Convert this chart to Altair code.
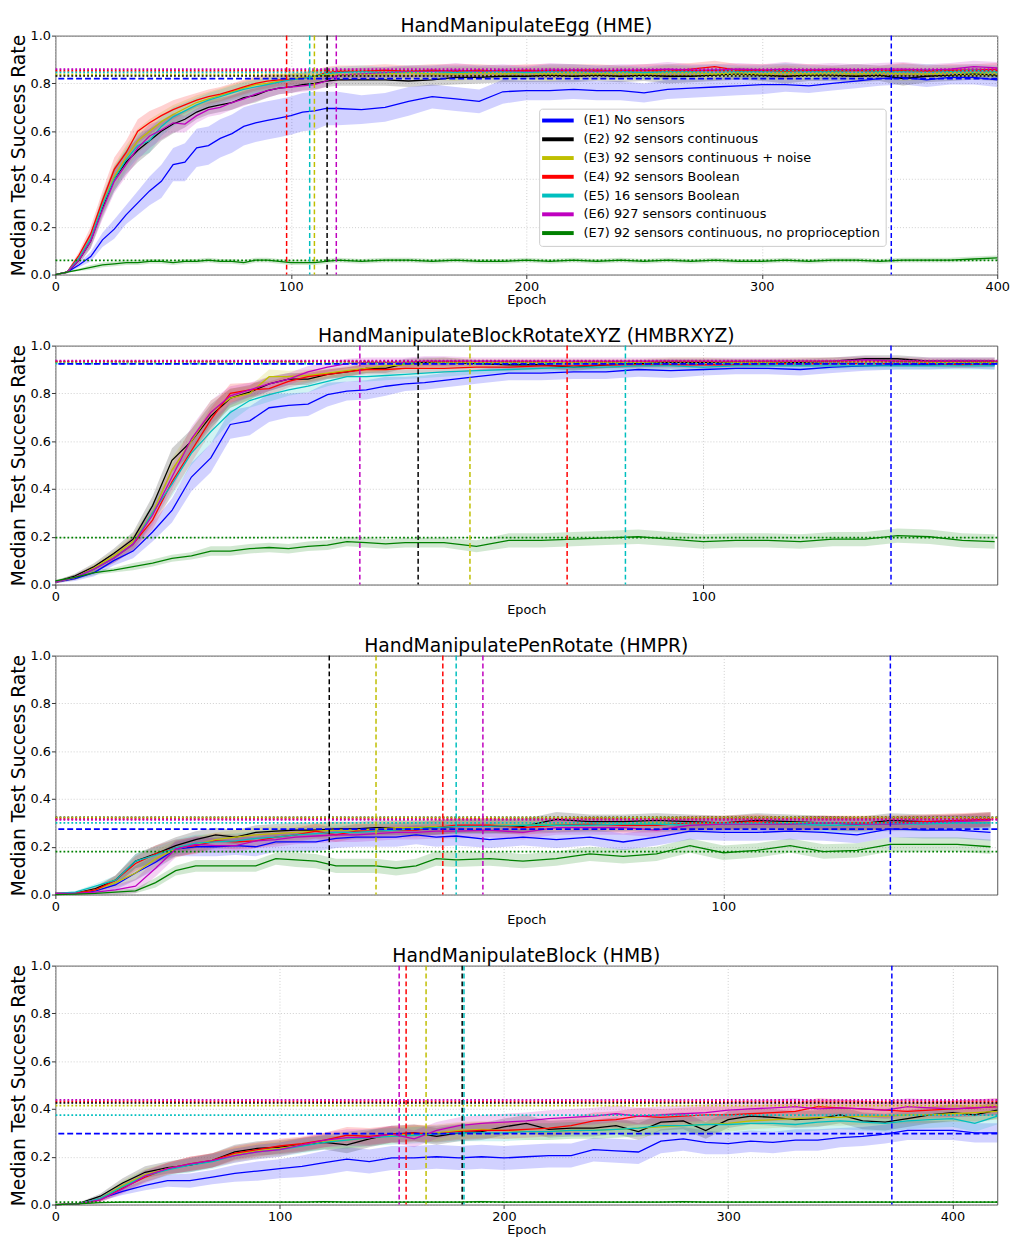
import altair as alt
import pandas as pd

KEYS = ["E1", "E2", "E3", "E4", "E5", "E6", "E7"]
LABELS = [
    "(E1) No sensors",
    "(E2) 92 sensors continuous",
    "(E3) 92 sensors continuous + noise",
    "(E4) 92 sensors Boolean",
    "(E5) 16 sensors Boolean",
    "(E6) 927 sensors continuous",
    "(E7) 92 sensors continuous, no proprioception",
]
COLORS = ["#0000ff", "#000000", "#bfbf00", "#ff0000", "#00bfbf", "#bf00bf", "#008000"]
Y_TICKS = [0.0, 0.2, 0.4, 0.6, 0.8, 1.0]

# ---------------- Panel 1: HandManipulateEgg (values in percent) ----------------
P1_TITLE = "HandManipulateEgg (HME)"
P1_XMAX = 400
P1_XTICKS = [0, 100, 200, 300, 400]
P1_EPOCH = [0, 5, 10, 15, 20, 25, 30, 35, 40, 45, 50, 55, 60, 65, 70, 75, 80, 85, 90, 95, 100, 105, 110, 115, 120,
            130, 140, 150, 160, 170, 180, 190, 200, 210, 220, 230, 240, 250, 260, 270, 280, 290, 300, 310, 320,
            330, 340, 350, 360, 370, 380, 390, 400]
P1_E1 = [0, 1, 4, 7.5, 14.5, 19, 25, 30, 35, 39, 46, 47, 53, 54, 57, 59, 62, 63.5, 64.5, 65.5, 66.5, 68, 68.5, 69.5, 69.5,
         69, 70, 72.5, 74.5, 73.5, 72.5, 76.5, 77, 77, 77.5, 77, 77, 76, 77.5, 78, 78.5, 79, 79.5, 79.5, 79,
         80, 81, 82, 82.5, 81.5, 82.5, 82.5, 81.5]
P1_E2 = [0, 1, 6, 14, 28, 40, 47, 52, 56, 60, 63, 65, 68, 70, 71, 72, 74, 75, 77, 78, 78.5, 79.5, 80, 81, 81.5,
         81.5, 81.5, 81, 81.5, 82.5, 82.5, 83, 83, 83.5, 83, 83.5, 83, 83.5, 83, 83, 83.5, 84, 83.5, 83, 83.5,
         83.5, 83, 83.5, 82, 83, 83.5, 84, 83.5]
P1_E3 = [0, 1, 7, 15, 29, 41, 49, 56, 60, 64, 67, 69.5, 72, 73.5, 75, 76.5, 78, 79.5, 80, 81, 82, 82.5, 83, 83.5, 83.5,
         84, 84, 84.5, 84, 84, 84.5, 84, 84.5, 84, 84.5, 84, 84.5, 84, 84.5, 84.5, 84, 84.5, 84, 84.5, 84,
         84.5, 84, 84.5, 84, 84, 84.5, 84.5, 84.5]
P1_E4 = [0, 1, 8, 17, 31, 44, 51, 60, 63.5, 66.5, 69, 71, 73, 74.5, 75.5, 77, 78.5, 80, 81, 81.5, 81.5, 82, 83, 84.5, 85,
         85, 85.5, 85, 85.5, 85, 85.5, 85, 85.5, 85, 85.5, 85.5, 85, 85.5, 85, 86, 87, 85.5, 85.5, 85, 85.5,
         85, 85.5, 85, 85.5, 85, 85.5, 85.5, 86]
P1_E5 = [0, 1, 7, 15, 29, 40, 48, 54, 56, 62, 66, 68.5, 71, 73, 74.5, 76, 77.5, 78.5, 79.5, 80.5, 81.5, 82, 83, 84, 84.5,
         85, 84.5, 85, 85, 84.5, 85, 85, 84.5, 85, 85.5, 85, 85, 84.5, 85, 85, 85.5, 85, 85, 85.5, 85,
         85, 85.5, 85, 85, 85.5, 85, 85.5, 85]
P1_E6 = [0, 1, 6, 14, 27, 39, 46, 53, 58, 60.5, 63.5, 63, 66.5, 69, 70, 72, 73.5, 75.5, 77, 78, 78.5, 79, 79.5, 81, 83.5,
         84, 84.5, 85, 85, 85.5, 85, 85.5, 85, 85.5, 85.5, 85, 85.5, 85.5, 86, 85.5, 85.5, 86, 85.5, 86, 85.5,
         86, 85.5, 86, 86, 85.5, 86, 87, 86.5]
P1_E7 = [0, 1, 2, 3, 4, 4.5, 5, 5, 5.5, 5.5, 5, 5.5, 5.5, 6, 5.5, 5.5, 5, 6, 6, 5.5, 5, 5, 5, 5.5, 6,
         5.5, 6, 6, 5.5, 6, 5.5, 5.5, 6, 5.5, 6, 5.5, 6, 5.5, 6, 5.5, 6, 5.5, 5.5, 6, 5.5,
         6, 6, 5.5, 6, 6, 6, 6.5, 7]
P1_SPREAD_E1 = [0, 0.5, 1, 2, 3, 4, 4, 5, 6, 7, 7, 8, 8, 8, 8, 8, 8, 8, 8, 8, 8, 8, 8, 7, 7,
                6, 6, 6, 5, 5, 5, 5, 4, 4, 4, 4, 4, 4, 4, 4, 4, 4, 4, 3, 3, 3, 3, 3, 3, 3, 3, 3, 3]
P1_SPREAD_SENS = [0, 0.5, 1.5, 3, 4, 5, 5, 5, 5, 4, 4, 3.5, 3, 3, 3, 3, 3, 3, 3, 2.5, 2.5, 2.5, 2.5, 2.5, 2.5,
                  2.5, 2.5, 2.5, 2.5, 3, 2.5, 2.5, 2.5, 3, 2.5, 2.5, 2.5, 2.5, 3, 2.5, 2.5, 2.5, 2.5, 3, 2.5,
                  2.5, 2.5, 2.5, 3, 2.5, 2.5, 2.5, 2.5]
P1_SPREAD_E7 = [0, 0.3, 0.5, 1, 1, 1, 1, 1, 1, 1, 1, 1, 1, 1, 1, 1, 1, 1, 1, 1, 1, 1, 1, 1, 1,
                1, 1, 1, 1, 1, 1, 1, 1, 1, 1, 1, 1, 1, 1, 1, 1, 1, 1, 1, 1, 1, 1, 1, 1, 1, 1, 1, 1]
P1_VLINES = [355, 115.4, 110, 98.2, 108, 119.3]          # E1..E6
P1_HLINES = [82.0, 83.2, 83.8, 85.3, 84.6, 86.0, 5.9]     # E1..E7

# ---------------- Panel 2: HandManipulateBlockRotateXYZ ----------------
P2_TITLE = "HandManipulateBlockRotateXYZ (HMBRXYZ)"
P2_XMAX = 145.4
P2_XTICKS = [0, 100]
P2_EPOCH = [0, 3, 6, 9, 12, 15, 18, 21, 24, 27, 30, 33, 36, 39, 42, 45, 48, 51, 54, 57, 60,
            65, 70, 75, 80, 85, 90, 95, 100, 105, 110, 115, 120, 125, 130, 135, 140, 145]
P2_E1 = [1, 2.5, 5, 10, 14, 22, 31, 45, 53, 67, 68.5, 74, 75, 75.5, 79.5, 81, 81.5, 83, 84, 84.5, 85.5,
         87, 88.5, 88.5, 89, 89, 90, 89.5, 90, 90.5, 90.5, 90, 91, 91.5, 92, 92, 92.5, 92]
P2_E2 = [1, 3.5, 7.5, 13, 19, 33, 52, 60, 70.5, 78, 80.5, 84, 86, 86, 88, 89, 90.5, 90.5, 92.5, 93, 93,
         92.5, 92, 92, 91, 92, 92.5, 93, 93, 93, 93, 93, 93.5, 94.5, 94.5, 93.5, 93.5, 93.5]
P2_E3 = [1, 3, 7, 12, 18, 30, 48, 60, 72, 78, 80, 87, 87, 87.5, 88.5, 89.5, 90.5, 91.5, 92, 92.5, 93,
         93, 93, 93, 93, 93, 93, 93.5, 93.5, 93, 93, 93.5, 93.5, 93.5, 93.5, 93, 93, 93]
P2_E4 = [1, 3, 6.5, 11, 17, 27, 43, 56, 69, 80, 81.5, 82, 85, 87, 88, 89, 90, 90, 90.5, 90.5, 90.5,
         91, 91, 91.5, 91.5, 92, 92, 92, 92, 92, 92.5, 92.5, 92.5, 92.5, 92.5, 92.5, 92, 92.5]
P2_E5 = [1, 3, 6.5, 11, 17, 30, 42, 55, 64, 72, 77, 79.5, 81.5, 83, 85, 87, 87, 87.5, 88, 88.5, 89,
         89.5, 90, 90.5, 91, 91, 91.5, 91.5, 91, 91.5, 91.5, 91.5, 91.5, 91.5, 91.5, 91.5, 91.5, 91.5]
P2_E6 = [1, 3, 6.5, 11, 17, 29, 45, 61, 72, 79, 81.5, 84, 86, 89, 91, 92.5, 93, 93, 93, 93.5, 93.5,
         93.5, 93.5, 93.5, 93.5, 93.5, 93.5, 93.5, 93.5, 93.5, 93.5, 93.5, 93.5, 94, 93.5, 93.5, 93.5, 93.5]
P2_E7 = [1.5, 3, 5, 6, 7.5, 9, 11, 12, 14, 14, 15, 15.5, 15, 16, 16.5, 18, 17.5, 17, 17.5, 17.5, 17.5,
         16, 18.5, 18.5, 19, 19.5, 20, 19, 18, 18.5, 18.5, 18, 19, 19, 20.5, 20, 18.5, 18]
P2_SPREAD_E1 = [0.5, 1, 1.5, 2, 3, 4, 5, 6, 6, 6, 6, 6, 5, 5, 5, 4, 4, 4, 3, 3, 3,
                3, 3, 3, 3, 3, 3, 3, 2.5, 2.5, 2.5, 2.5, 2.5, 2, 2, 2, 2, 2]
P2_SPREAD_SENS = [0.5, 1, 1.5, 2, 3, 4, 5, 5, 5, 4, 3, 3, 2.5, 2.5, 2, 2, 2, 2, 2, 2, 2,
                  1.5, 1.5, 1.5, 1.5, 1.5, 1.5, 1.5, 1.5, 1.5, 1.5, 1.5, 1.5, 1.5, 1.5, 1.5, 1.5, 1.5]
P2_SPREAD_E7 = [0.5, 1, 1, 1, 1.5, 1.5, 1.5, 1.5, 2, 2, 2, 2, 2, 2, 2, 2, 2, 2, 2, 2, 2,
                2.5, 3, 3, 3, 3, 3, 3, 3, 3, 3, 3, 3, 3, 3, 3, 3, 3]
P2_VLINES = [129, 56, 64, 79, 88, 47]
P2_HLINES = [92.4, 93.2, 93.2, 93.5, 92.5, 93.7, 19.6]

# ---------------- Panel 3: HandManipulatePenRotate ----------------
P3_TITLE = "HandManipulatePenRotate (HMPR)"
P3_XMAX = 141
P3_XTICKS = [0, 100]
P3_EPOCH = [0, 3, 6, 9, 12, 15, 18, 21, 24, 27, 30, 33, 36, 39, 42, 45, 48, 51, 54, 57, 60,
            65, 70, 75, 80, 85, 90, 95, 100, 105, 110, 115, 120, 125, 130, 135, 140]
P3_E1 = [0.5, 0.5, 1.5, 4, 9, 13.5, 19, 20, 20, 20.5, 20, 22, 22, 22, 23.5, 24, 24, 24, 25, 24, 24.5,
         23, 24, 23, 24, 22, 24, 26.5, 26, 26, 26.5, 26, 25, 27.5, 27, 27, 26]
P3_E2 = [0.5, 0.5, 2.5, 6, 14, 17, 20.5, 23, 25, 24, 26, 26.5, 27, 27, 27.5, 27.5, 28, 28, 28, 28, 28.5,
         28.5, 28.5, 31.5, 30.5, 30.5, 31, 30.5, 30, 31, 30.5, 30, 29.5, 31, 30.5, 30.5, 31.5]
P3_E3 = [0.5, 0.5, 2, 5, 9, 15, 19, 21, 23, 24, 25, 25.5, 26, 26.5, 27, 27, 27.5, 28, 28, 28.5, 28.5,
         29, 29, 29.5, 29.5, 29.5, 30, 29.5, 30, 30, 30, 30, 30, 30, 30, 30.5, 31]
P3_E4 = [0.5, 0.5, 2, 6, 13, 17, 19.5, 20.5, 22.5, 22, 22.5, 24, 25, 26.5, 25, 26.5, 26.5, 27, 27, 28, 29,
         29, 28, 29, 29.5, 29, 29, 30, 30, 30.5, 29.5, 30, 30, 30, 30.5, 31, 31.5]
P3_E5 = [0.5, 1, 3.5, 6, 14, 16.5, 19.5, 21.5, 22, 22.5, 23.5, 24, 25, 25.5, 26, 26, 26.5, 27, 27.5, 28, 28.5,
         28.5, 29, 29, 29, 29.5, 29.5, 29, 29.5, 29.5, 29.5, 29, 29, 29.5, 29.5, 30, 30]
P3_E6 = [0.5, 0.5, 1, 2, 3.5, 11, 19, 21, 20.5, 20.5, 22.5, 23, 24, 24.5, 25, 25, 25.5, 26, 26, 26.5, 26.5,
         27, 26, 28, 28, 28, 27, 29, 29.5, 29.5, 29.5, 30, 29.5, 29.5, 30, 30.5, 31]
P3_E7 = [0, 0.2, 0.5, 1, 1.5, 5, 10, 12, 12, 12, 12, 15, 14.5, 14, 12, 12, 12, 11, 12, 15, 14.5,
         15, 14, 15, 17, 16, 17, 20.5, 17.5, 18.5, 20.5, 18, 18.5, 21, 21, 21, 20]
P3_SPREAD_E1 = [0, 0.5, 1, 2, 3, 3, 3, 4, 4, 4, 4, 4, 4, 4, 4, 4, 4, 4, 4, 4, 4,
                3.5, 3.5, 3.5, 3.5, 3.5, 3.5, 3.5, 3.5, 3.5, 3.5, 3.5, 3.5, 3.5, 3.5, 3.5, 3.5]
P3_SPREAD_SENS = [0, 0.5, 1, 2, 3, 3.5, 3.5, 3.5, 3, 3, 3, 3, 3, 3, 3, 3, 3, 3, 3, 3, 3,
                  3, 3, 3, 3, 3, 3, 3, 3, 3, 3, 3, 3, 3, 3, 3, 3]
P3_SPREAD_E7 = [0, 0.2, 0.5, 1, 1, 2, 2, 2.5, 2.5, 2.5, 2.5, 2.5, 3, 3, 3, 3, 3, 3, 3, 3, 3,
                3, 3, 3, 3, 3, 3, 3, 3, 3, 3, 3, 3, 3, 3, 3, 3]
P3_VLINES = [125, 41, 48, 58, 60, 64]
P3_HLINES = [27.4, 32.3, 32.2, 31.6, 30.0, 31.3, 18.0]

# ---------------- Panel 4: HandManipulateBlock ----------------
P4_TITLE = "HandManipulateBlock (HMB)"
P4_XMAX = 420
P4_XTICKS = [0, 100, 200, 300, 400]
P4_EPOCH = [0, 10, 20, 30, 40, 50, 60, 70, 80, 90, 100, 110, 120, 130, 140, 150, 160, 170, 180, 190, 200,
            210, 220, 230, 240, 250, 260, 270, 280, 290, 300, 310, 320, 330, 340, 350, 360, 370, 380, 390,
            400, 410, 420]
P4_E1 = [0, 0.3, 2.5, 5.5, 8, 10, 10, 11.5, 13, 14, 15, 16, 17.5, 19, 18, 19.5, 19.5, 20, 19.5, 20,
         19.5, 20, 20.5, 20.5, 23, 22.5, 22, 26.5, 27.5, 26, 25.5, 26.5, 26, 27, 27, 28, 28.5, 29.5, 31, 31,
         31, 30, 30]
P4_E2 = [0, 0.3, 3.5, 9, 13.5, 15.5, 16.5, 18.5, 22, 23.5, 24, 25, 26, 25, 27.5, 29.5, 30, 28.5, 30, 30.5,
         32.5, 34, 31.5, 32, 32, 33, 30.5, 34.5, 35, 31, 35.5, 37, 36.5, 35.5, 36, 37.5, 35, 34.5, 36, 37.5,
         38.5, 37.5, 39.5]
P4_E3 = [0, 0.3, 2.5, 8, 12.5, 15, 17, 18.5, 21, 22.5, 23.5, 25, 26.5, 27, 28, 29, 29.5, 30, 31, 31.5,
         31, 30.5, 30.5, 31, 31, 31.5, 32, 32.5, 33, 33.5, 34, 35, 35.5, 36, 36.5, 36.5, 37, 37, 37.5, 37.5,
         38, 38.5, 39]
P4_E4 = [0, 0.3, 2, 7, 11.5, 15, 17, 18.5, 21.5, 23, 24.5, 25.5, 27, 29, 28.5, 29.5, 30, 29.5, 30.5, 31,
         31, 31.5, 32, 33, 35, 35.5, 37, 36.5, 37, 37.5, 37.5, 38, 38.5, 39, 41, 40.5, 40, 39.5, 39, 39.5,
         40, 40.5, 41]
P4_E5 = [0, 0.3, 2.5, 7.5, 12, 14.5, 16.5, 18, 20.5, 22, 23, 24.5, 26, 27, 28, 28.5, 29, 29.5, 30, 30,
         30, 30.5, 30.5, 31, 31, 31.5, 32, 33, 33, 33.5, 33.5, 34, 34, 33.5, 34.5, 35, 34.5, 34, 35, 35.5,
         36, 34, 37]
P4_E6 = [0, 0.3, 2, 6.5, 12, 15, 17, 18.5, 20.5, 22, 23, 25, 27, 28, 28, 29.5, 27.5, 31, 33, 34,
         34.5, 35, 36, 36.5, 37, 38, 37, 37.5, 38, 38.5, 39.5, 40, 40.5, 41, 40, 40.5, 40, 39.5, 41, 40.5,
         40, 40.5, 41]
P4_E7 = [0, 0.3, 0.8, 1, 1, 1, 1, 1, 1, 1, 1, 1, 1.2, 1, 1, 1, 1, 1, 1, 1.2,
         1, 1, 1, 1, 1, 1, 1, 1, 1.2, 1, 1, 1, 1, 1, 1, 1, 1, 1, 1, 1,
         1, 1, 1]
P4_SPREAD_E1 = [0, 0.3, 1, 1.5, 2, 2.5, 3, 3, 3.5, 4, 4, 4.5, 5, 5, 5, 5, 5, 5, 5, 5,
                5, 5, 5, 5, 5, 5, 5, 5, 5, 5, 4.5, 4.5, 4.5, 4.5, 4.5, 4, 4, 4, 4, 4,
                4, 4, 4]
P4_SPREAD_SENS = [0, 0.3, 1, 2, 2.5, 2.5, 3, 3, 3, 3, 3, 3, 3, 3.5, 3.5, 3.5, 3.5, 3.5, 3.5, 3.5,
                  3.5, 3.5, 3.5, 3.5, 3.5, 3.5, 3.5, 3.5, 3.5, 3.5, 3.5, 3.5, 3.5, 3.5, 3.5, 3.5, 3.5, 3.5, 3.5, 3.5,
                  3.5, 3.5, 3.5]
P4_SPREAD_E7 = [0, 0.2, 0.3, 0.4, 0.4, 0.4, 0.4, 0.4, 0.4, 0.4, 0.4, 0.4, 0.4, 0.4, 0.4, 0.4, 0.4, 0.4, 0.4, 0.4,
                0.4, 0.4, 0.4, 0.4, 0.4, 0.4, 0.4, 0.4, 0.4, 0.4, 0.4, 0.4, 0.4, 0.4, 0.4, 0.4, 0.4, 0.4, 0.4, 0.4,
                0.4, 0.4, 0.4]
P4_VLINES = [373, 181.4, 165.3, 156.4, 182.2, 153.3]
P4_HLINES = [29.7, 42.6, 41.4, 43.2, 37.4, 43.8, 1.0]

PANELS = [
    (P1_TITLE, P1_XMAX, P1_XTICKS, P1_EPOCH, [P1_E1, P1_E2, P1_E3, P1_E4, P1_E5, P1_E6, P1_E7],
     [P1_SPREAD_E1] + [P1_SPREAD_SENS] * 5 + [P1_SPREAD_E7], P1_VLINES, P1_HLINES),
    (P2_TITLE, P2_XMAX, P2_XTICKS, P2_EPOCH, [P2_E1, P2_E2, P2_E3, P2_E4, P2_E5, P2_E6, P2_E7],
     [P2_SPREAD_E1] + [P2_SPREAD_SENS] * 5 + [P2_SPREAD_E7], P2_VLINES, P2_HLINES),
    (P3_TITLE, P3_XMAX, P3_XTICKS, P3_EPOCH, [P3_E1, P3_E2, P3_E3, P3_E4, P3_E5, P3_E6, P3_E7],
     [P3_SPREAD_E1] + [P3_SPREAD_SENS] * 5 + [P3_SPREAD_E7], P3_VLINES, P3_HLINES),
    (P4_TITLE, P4_XMAX, P4_XTICKS, P4_EPOCH, [P4_E1, P4_E2, P4_E3, P4_E4, P4_E5, P4_E6, P4_E7],
     [P4_SPREAD_E1] + [P4_SPREAD_SENS] * 5 + [P4_SPREAD_E7], P4_VLINES, P4_HLINES),
]

FONT = "DejaVu Sans"
PLOT_W = 954
PLOT_H = 242


def make_panel(idx, title, xmax, xticks, epochs, series, spreads, vlines, hlines):
    rows = []
    for key, lab, vals, sp in zip(KEYS, LABELS, series, spreads):
        for e, v, s in zip(epochs, vals, sp):
            rows.append({"epoch": e, "series": lab, "key": key, "value": v / 100.0,
                         "lo": max(0.0, (v - s) / 100.0), "hi": min(1.0, (v + s) / 100.0)})
    df = pd.DataFrame(rows)
    vdf = pd.DataFrame({"epoch": vlines, "key": KEYS[:6]})
    hdf_dash = pd.DataFrame({"value": [hlines[0] / 100.0], "key": [KEYS[0]]})
    hdf_dot = pd.DataFrame({"value": [h / 100.0 for h in hlines[1:]], "key": KEYS[1:]})

    xscale = alt.Scale(domain=[0, xmax], nice=False, zero=False)
    yscale = alt.Scale(domain=[0, 1], nice=False)
    xaxis = alt.Axis(values=xticks, format="d", title="Epoch", titleFontSize=13, titleFontWeight="normal",
                     titlePadding=0, labelFontSize=13, tickSize=4, labelPadding=2, grid=True,
                     gridDash=[1, 2], gridColor="#c4c4c4", gridWidth=0.8, domain=False, labelFlush=False,
                     tickColor="#333333", labelColor="black", titleColor="black", labelFont=FONT,
                     titleFont=FONT)
    yaxis = alt.Axis(values=Y_TICKS, format=".1f", title="Median Test Success Rate", titleFontSize=19,
                     titleFontWeight="normal", titlePadding=2, labelFontSize=13, tickSize=4, labelPadding=1,
                     grid=True, gridDash=[1, 2], gridColor="#c4c4c4", gridWidth=0.8, domain=False,
                     tickColor="#333333", labelColor="black", titleColor="black", labelFont=FONT,
                     titleFont=FONT)

    if idx == 0:
        legend = alt.Legend(title=None, orient="none", legendX=490, legendY=74,
                            symbolType="M-3.2,0H3.2", symbolSize=100, symbolStrokeWidth=4,
                            symbolOffset=7, labelOffset=19, labelFontSize=13, labelFont=FONT,
                            labelColor="black", labelLimit=500, fillColor="white",
                            strokeColor="#cccccc", padding=5, cornerRadius=3, rowPadding=3)
    else:
        legend = None

    color_scale = alt.Scale(domain=LABELS, range=COLORS)
    key_scale = alt.Scale(domain=KEYS, range=COLORS)

    band = alt.Chart(df).mark_area(opacity=0.18).encode(
        x=alt.X("epoch:Q", scale=xscale, axis=xaxis),
        y=alt.Y("lo:Q", scale=yscale, axis=yaxis),
        y2="hi:Q",
        fill=alt.Fill("key:N", scale=key_scale, legend=None),
        detail="key:N",
    )
    lines = alt.Chart(df).mark_line(strokeWidth=1.3).encode(
        x=alt.X("epoch:Q", scale=xscale, axis=xaxis),
        y=alt.Y("value:Q", scale=yscale, axis=yaxis),
        color=alt.Color("series:N", scale=color_scale, legend=legend),
    )
    h_dot = alt.Chart(hdf_dot).mark_rule(strokeWidth=1.8, strokeDash=[1.8, 2.2]).encode(
        y=alt.Y("value:Q", scale=yscale, axis=yaxis),
        stroke=alt.Stroke("key:N", scale=key_scale, legend=None),
    )
    h_dash = alt.Chart(hdf_dash).mark_rule(strokeWidth=1.8, strokeDash=[6, 3]).encode(
        y=alt.Y("value:Q", scale=yscale, axis=yaxis),
        stroke=alt.Stroke("key:N", scale=key_scale, legend=None),
    )
    v_dash = alt.Chart(vdf).mark_rule(strokeWidth=1.5, strokeDash=[5, 3]).encode(
        x=alt.X("epoch:Q", scale=xscale, axis=xaxis),
        stroke=alt.Stroke("key:N", scale=key_scale, legend=None),
    )
    return alt.layer(band, lines, h_dot, h_dash, v_dash).properties(
        width=PLOT_W, height=PLOT_H,
        title=alt.TitleParams(text=title, fontSize=19, font=FONT, fontWeight="normal", offset=0, dy=6,
                              anchor="middle", color="black", frame="group"),
    )


panels = [make_panel(i, *p) for i, p in enumerate(PANELS)]

chart = alt.vconcat(*panels, spacing=19).resolve_scale(
    color="independent", x="independent", y="independent", fill="independent", stroke="independent"
).properties(
    padding={"left": 0, "top": 0, "right": 6, "bottom": 0}
).configure(font=FONT).configure_view(stroke="#555555", strokeWidth=1)

chart.save("out.html", embed_options={"renderer": "svg", "actions": False})
